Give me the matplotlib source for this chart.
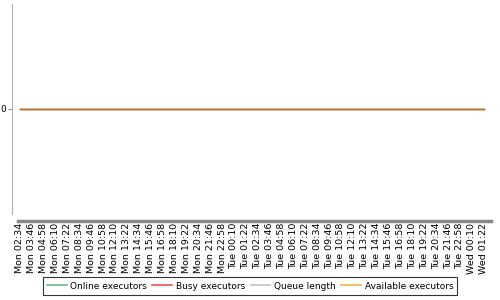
import matplotlib
matplotlib.use("Agg")
import matplotlib.pyplot as plt
from matplotlib.lines import Line2D

# time labels along the x axis (every 1h12m)
labels = ["Mon 02:34", "Mon 03:46", "Mon 04:58", "Mon 06:10", "Mon 07:22", "Mon 08:34",
          "Mon 09:46", "Mon 10:58", "Mon 12:10", "Mon 13:22", "Mon 14:34", "Mon 15:46",
          "Mon 16:58", "Mon 18:10", "Mon 19:22", "Mon 20:34", "Mon 21:46", "Mon 22:58",
          "Tue 00:10", "Tue 01:22", "Tue 02:34", "Tue 03:46", "Tue 04:58", "Tue 06:10",
          "Tue 07:22", "Tue 08:34", "Tue 09:46", "Tue 10:58", "Tue 12:10", "Tue 13:22",
          "Tue 14:34", "Tue 15:46", "Tue 16:58", "Tue 18:10", "Tue 19:22", "Tue 20:34",
          "Tue 21:46", "Tue 22:58", "Wed 00:10", "Wed 01:22"]

online = [0, 0, 0, 0, 0, 0, 0, 0, 0, 0, 0, 0, 0, 0, 0, 0, 0, 0, 0, 0,
          0, 0, 0, 0, 0, 0, 0, 0, 0, 0, 0, 0, 0, 0, 0, 0, 0, 0, 0, 0]
busy = [0, 0, 0, 0, 0, 0, 0, 0, 0, 0, 0, 0, 0, 0, 0, 0, 0, 0, 0, 0,
        0, 0, 0, 0, 0, 0, 0, 0, 0, 0, 0, 0, 0, 0, 0, 0, 0, 0, 0, 0]
queue = [0, 0, 0, 0, 0, 0, 0, 0, 0, 0, 0, 0, 0, 0, 0, 0, 0, 0, 0, 0,
         0, 0, 0, 0, 0, 0, 0, 0, 0, 0, 0, 0, 0, 0, 0, 0, 0, 0, 0, 0]
available = [0, 0, 0, 0, 0, 0, 0, 0, 0, 0, 0, 0, 0, 0, 0, 0, 0, 0, 0, 0,
             0, 0, 0, 0, 0, 0, 0, 0, 0, 0, 0, 0, 0, 0, 0, 0, 0, 0, 0, 0]

series_names = ["Online executors", "Busy executors", "Queue length", "Available executors"]
colors = ["#6cb88a", "#e05a5a", "#c4c4c4", "#f6b44a"]

fig = plt.figure(figsize=(5, 3), dpi=100)
ax = fig.add_axes([0.036, 0.287, 0.946, 0.70])

# spines first: set_position resets the tick settings
for s in ["top", "right"]:
    ax.spines[s].set_visible(False)
ax.spines["left"].set_position(("outward", 4))
ax.spines["left"].set_color("#b0b0b0")
ax.spines["bottom"].set_position(("outward", 5))
ax.spines["bottom"].set_color("#888888")
ax.spines["bottom"].set_linewidth(2.5)

x = list(range(len(labels)))
for data, c in zip([online, busy, queue, available], colors):
    ax.plot(x, data, color=c, lw=1.0)
# combined colour of the overlapping lines
ax.plot(x, available, color="#b8762c", lw=1.0)

ax.set_xlim(-0.15, len(labels) - 0.4)
ax.set_ylim(-1, 1)
ax.set_yticks([0])
ax.set_yticklabels(["0"], fontsize=6.5)
ax.set_xticks(x)
ax.set_xticklabels(labels, rotation=90, fontsize=6.8)
ax.tick_params(axis="x", length=0, pad=1.5)
ax.tick_params(axis="y", length=3, color="#999999", pad=1.5)

handles = [Line2D([], [], color=c, lw=1.2) for c in colors]
leg = fig.legend(handles, series_names, loc="lower center", bbox_to_anchor=(0.5, 0.003),
                 ncol=4, fontsize=6.5, frameon=True, fancybox=False, handlelength=2.2,
                 handletextpad=0.4, columnspacing=0.6, borderpad=0.45)
leg.get_frame().set_edgecolor("black")
leg.get_frame().set_linewidth(0.8)

fig.savefig("out.png", dpi=100)
